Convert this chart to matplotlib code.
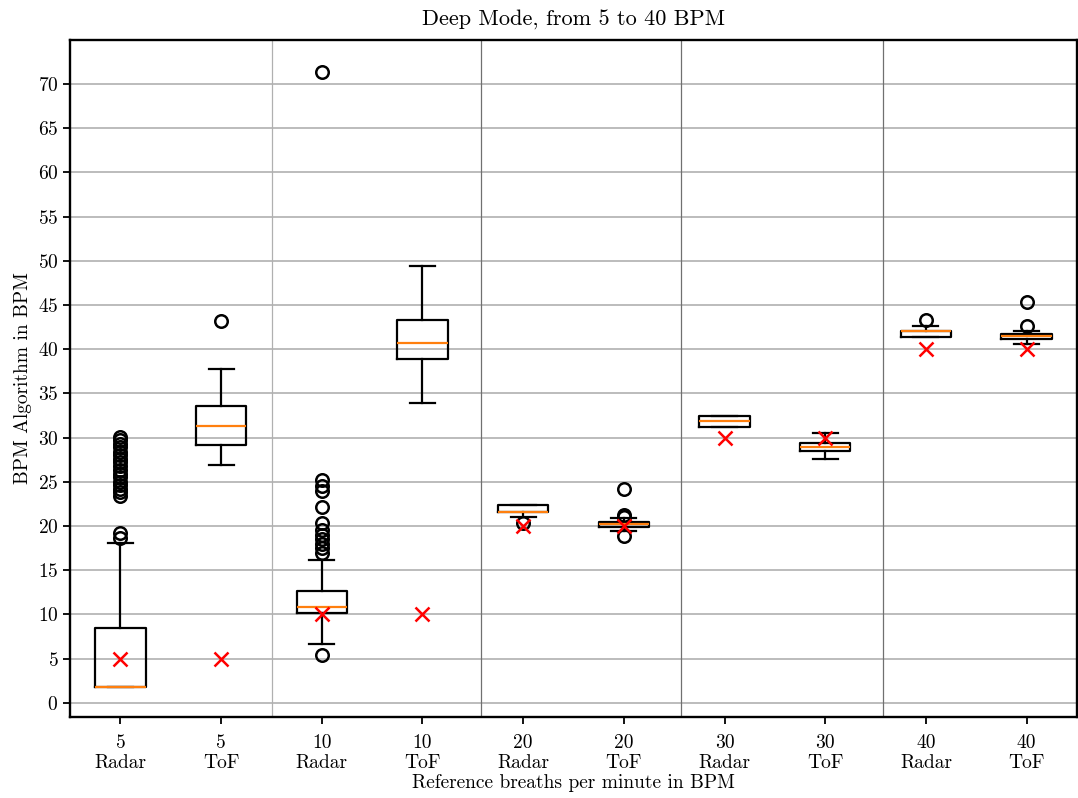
import numpy as np
import matplotlib
matplotlib.use("Agg")
import matplotlib.pyplot as plt

plt.rcParams['font.family'] = 'cmr10'
plt.rcParams['axes.formatter.use_mathtext'] = True
plt.rcParams['mathtext.fontset'] = 'cm'

# values
labels = ['5\nRadar', '5\nToF', '10\nRadar', '10\nToF', '20\nRadar',
          '20\nToF', '30\nRadar', '30\nToF', '40\nRadar', '40\nToF']
reference = [5, 5, 10, 10, 20, 20, 30, 30, 40, 40]
q1 = [1.8, 29.2, 10.2, 38.9, 21.6, 19.95, 31.25, 28.45, 41.4, 41.2]
med = [1.8, 31.3, 10.85, 40.7, 21.6, 20.25, 31.85, 28.9, 42.1, 41.45]
q3 = [8.45, 33.6, 12.7, 43.3, 22.35, 20.5, 32.5, 29.45, 42.1, 41.75]
whislo = [1.8, 26.9, 6.7, 33.9, 21.05, 19.4, 31.25, 27.6, 41.4, 40.6]
whishi = [18.1, 37.8, 16.2, 49.4, 22.35, 20.95, 32.5, 30.5, 42.65, 42.1]
fliers = [
    [18.7, 19.2, 23.4, 23.8, 24.2, 24.6, 25.0, 25.5, 25.9, 26.3, 26.8,
     27.2, 27.6, 28.0, 28.4, 28.9, 29.3, 29.7, 30.1],
    [43.2],
    [5.4, 17.0, 17.5, 18.0, 18.5, 19.0, 19.6, 20.3, 22.2, 24.0, 24.5, 25.2, 71.4],
    [],
    [20.3],
    [18.9, 21.0, 21.3, 24.2],
    [],
    [],
    [43.3],
    [42.6, 45.4],
]
separators = [2.51, 4.58, 6.57, 8.57]

stats = []
for i in range(len(labels)):
    stats.append(dict(q1=q1[i], med=med[i], q3=q3[i], whislo=whislo[i],
                      whishi=whishi[i], fliers=fliers[i], label=labels[i]))

fig = plt.figure(figsize=(10.78, 7.98), dpi=100)
ax = fig.add_axes([0.065, 0.1015, 0.934, 0.8485])

ax.grid(axis='y', color='#b0b0b0', linewidth=1.2, zorder=0)
ax.set_axisbelow(True)

lw = 1.6
ax.bxp(stats, positions=np.arange(1, 11), widths=0.5,
       boxprops=dict(color='black', linewidth=lw),
       whiskerprops=dict(color='black', linewidth=lw),
       capprops=dict(color='black', linewidth=lw),
       medianprops=dict(color='#ff7f0e', linewidth=lw),
       flierprops=dict(marker='o', markersize=9, markerfacecolor='none',
                       markeredgecolor='black', markeredgewidth=1.8))

ax.plot(np.arange(1, 11), reference, 'x', color='red', markersize=10,
        markeredgewidth=1.8, zorder=5)

for k, s in enumerate(separators):
    ax.axvline(s, color='#b0b0b0' if k == 0 else '#707070', linewidth=0.9, zorder=1)

ax.set_xlim(0.5, 10.5)
ax.set_ylim(-1.6, 75)
ax.set_yticks(np.arange(0, 75, 5))
ax.tick_params(labelsize=14, width=1.3, length=5)
ax.tick_params(axis='x', pad=7)
for sp in ax.spines.values():
    sp.set_linewidth(1.7)

ax.set_title('Deep Mode, from 5 to 40 BPM', fontsize=16, pad=10)
ax.set_xlabel('Reference breaths per minute in BPM', fontsize=14, labelpad=1)
ax.set_ylabel('BPM Algorithm in BPM', fontsize=14, labelpad=4)

fig.savefig('out.png', dpi=100)
